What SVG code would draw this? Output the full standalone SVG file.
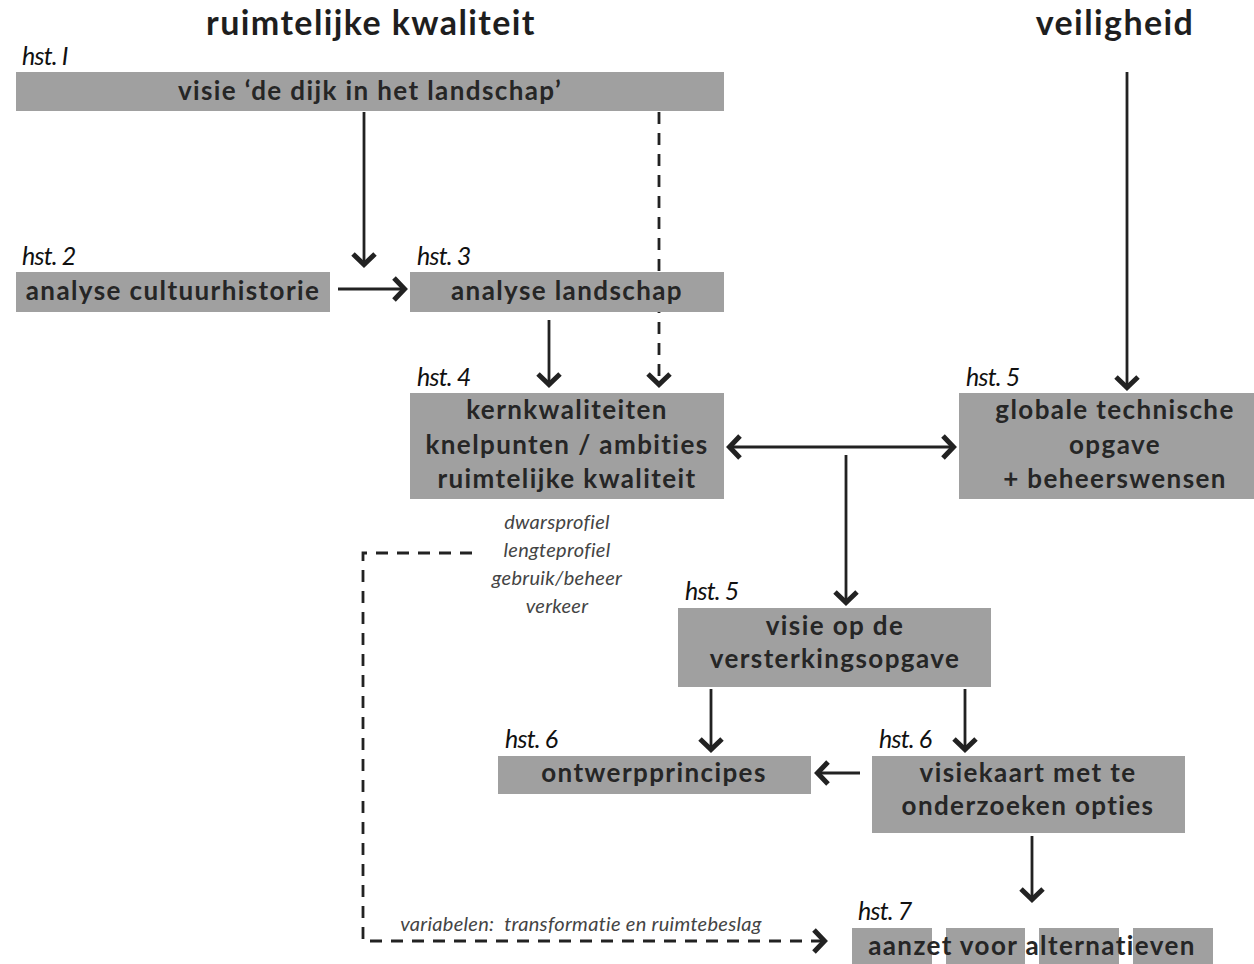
<svg xmlns="http://www.w3.org/2000/svg" width="1254" height="964" viewBox="0 0 1254 964">
<defs>
<style>
.box{fill:#a0a0a0}
.t{font-family:Lato,"Open Sans","Liberation Sans",sans-serif;font-size:26px;font-weight:bold;fill:#262626;text-anchor:middle;letter-spacing:1.4px}
.h{font-family:Lato,"Liberation Sans",sans-serif;font-size:34px;font-weight:bold;fill:#1e1e1e;text-anchor:middle;letter-spacing:1.4px}
.hst{font-family:Lato,"Liberation Sans",sans-serif;font-size:25px;font-style:italic;fill:#111;letter-spacing:-0.8px}
.it{font-family:Lato,"Liberation Sans",sans-serif;font-size:20px;font-style:italic;fill:#444;text-anchor:middle;letter-spacing:0.3px}
.ln{fill:none;stroke:#222;stroke-width:2.8}
.dash{fill:none;stroke:#222;stroke-width:2.8;stroke-dasharray:12 9}
</style>
<marker id="ah" viewBox="-16 -14 18 28" markerWidth="18" markerHeight="28" refX="0" refY="0" orient="auto-start-reverse" markerUnits="userSpaceOnUse">
<path d="M-12,-11 L-1.5,0 L-12,11" fill="none" stroke="#222" stroke-width="5"/>
</marker>
</defs>

<text class="h" x="371" y="35">ruimtelijke kwaliteit</text>
<text class="h" x="1115" y="35">veiligheid</text>

<g id="connectors">
<line class="ln" x1="364" y1="112" x2="364" y2="266" marker-end="url(#ah)"/>
<line class="ln" x1="338" y1="289" x2="406" y2="289" marker-end="url(#ah)"/>
<line class="dash" x1="659" y1="112" x2="659" y2="386" marker-end="url(#ah)"/>
<line class="ln" x1="549" y1="320" x2="549" y2="386" marker-end="url(#ah)"/>
<line class="ln" x1="1127" y1="72" x2="1127" y2="389" marker-end="url(#ah)"/>
<line class="ln" x1="728" y1="447" x2="955" y2="447" marker-start="url(#ah)" marker-end="url(#ah)"/>
<line class="ln" x1="846" y1="455" x2="846" y2="604" marker-end="url(#ah)"/>
<line class="ln" x1="711" y1="689" x2="711" y2="751" marker-end="url(#ah)"/>
<line class="ln" x1="965" y1="689" x2="965" y2="751" marker-end="url(#ah)"/>
<line class="ln" x1="860" y1="773" x2="816" y2="773" marker-end="url(#ah)"/>
<line class="ln" x1="1032" y1="836" x2="1032" y2="901" marker-end="url(#ah)"/>
<path class="dash" d="M472,553 H363 V941 H826" marker-end="url(#ah)"/>
</g>

<g id="n1">
<text class="hst" x="22" y="65">hst. I</text>
<rect class="box" x="16" y="72" width="708" height="39"/>
<text class="t" x="370" y="100">visie ‘de dijk in het landschap’</text>
</g>

<g id="n2">
<text class="hst" x="22" y="265">hst. 2</text>
<rect class="box" x="16" y="272" width="314" height="40"/>
<text class="t" x="173" y="300">analyse cultuurhistorie</text>
</g>

<g id="n3">
<text class="hst" x="417" y="265">hst. 3</text>
<rect class="box" x="410" y="272" width="314" height="40"/>
<text class="t" x="567" y="300">analyse landschap</text>
</g>

<g id="n4">
<text class="hst" x="417" y="386">hst. 4</text>
<rect class="box" x="410" y="393" width="314" height="106"/>
<text class="t" x="567" y="419">kernkwaliteiten</text>
<text class="t" x="567" y="454">knelpunten / ambities</text>
<text class="t" x="567" y="488">ruimtelijke kwaliteit</text>
</g>

<g id="n4notes">
<text class="it" x="557" y="529">dwarsprofiel</text>
<text class="it" x="557" y="557">lengteprofiel</text>
<text class="it" x="557" y="585">gebruik/beheer</text>
<text class="it" x="557" y="613">verkeer</text>
</g>

<g id="n5">
<text class="hst" x="966" y="386">hst. 5</text>
<rect class="box" x="959" y="393" width="295" height="106"/>
<text class="t" x="1115" y="419">globale technische</text>
<text class="t" x="1115" y="454">opgave</text>
<text class="t" x="1115" y="488">+ beheerswensen</text>
</g>

<g id="n6">
<text class="hst" x="685" y="600">hst. 5</text>
<rect class="box" x="678" y="608" width="313" height="79"/>
<text class="t" x="835" y="635">visie op de</text>
<text class="t" x="835" y="668">versterkingsopgave</text>
</g>

<g id="n7">
<text class="hst" x="505" y="748">hst. 6</text>
<rect class="box" x="498" y="756" width="313" height="38"/>
<text class="t" x="654" y="782">ontwerpprincipes</text>
</g>

<g id="n8">
<text class="hst" x="879" y="748">hst. 6</text>
<rect class="box" x="872" y="756" width="313" height="77"/>
<text class="t" x="1028" y="782">visiekaart met te</text>
<text class="t" x="1028" y="815">onderzoeken opties</text>
</g>

<g id="n9">
<text class="hst" x="858" y="920">hst. 7</text>
<rect class="box" x="852" y="928" width="80" height="36"/>
<rect class="box" x="946" y="928" width="79" height="36"/>
<rect class="box" x="1039" y="928" width="80" height="36"/>
<rect class="box" x="1133" y="928" width="80" height="36"/>
<text class="t" x="1032" y="955">aanzet voor alternatieven</text>
</g>

<text class="it" x="581" y="931" xml:space="preserve">variabelen:  transformatie en ruimtebeslag</text>
</svg>
